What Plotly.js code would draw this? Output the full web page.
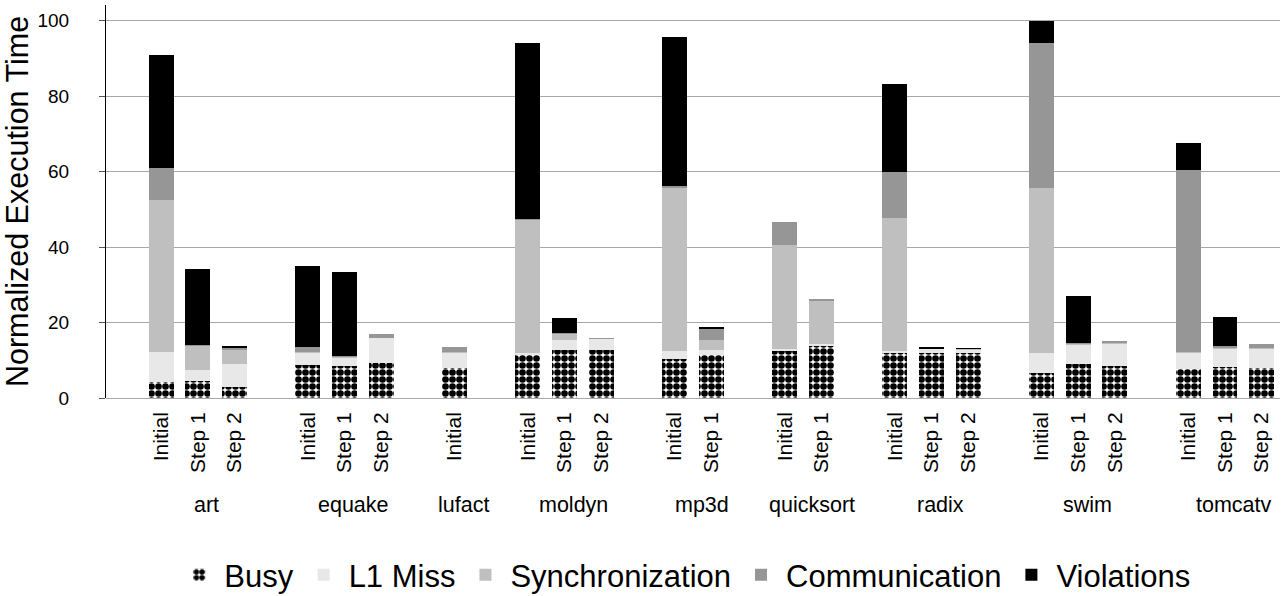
<!DOCTYPE html>
<html>
<head>
<meta charset="utf-8">
<script src="https://cdn.plot.ly/plotly-3.0.1.min.js"></script>
<style>html,body{margin:0;padding:0;background:#fff;}#chart{width:1288px;height:596px;}</style>
</head>
<body>
<div id="chart"></div>
<script>
// ---- data ----
const benchmarks = ['art', 'equake', 'lufact', 'moldyn', 'mp3d', 'quicksort', 'radix', 'swim', 'tomcatv'];
const configs = [
  ['Initial', 'Step 1', 'Step 2'],
  ['Initial', 'Step 1', 'Step 2'],
  ['Initial'],
  ['Initial', 'Step 1', 'Step 2'],
  ['Initial', 'Step 1'],
  ['Initial', 'Step 1'],
  ['Initial', 'Step 1', 'Step 2'],
  ['Initial', 'Step 1', 'Step 2'],
  ['Initial', 'Step 1', 'Step 2']
];
const seriesNames = ['Busy', 'L1 Miss', 'Synchronization', 'Communication', 'Violations'];
// values in bar order: art(I,S1,S2) equake(I,S1,S2) lufact(I) moldyn(I,S1,S2) mp3d(I,S1) quicksort(I,S1) radix(I,S1,S2) swim(I,S1,S2) tomcatv(I,S1,S2)
const busy  = [4.2, 4.4, 2.9,  8.7, 8.4, 9.3,  8.0,  11.3, 12.7, 12.7,  10.3, 11.3,  12.5, 13.7,  12.0, 12.0, 12.0,  6.6, 8.9, 8.4,  7.6, 8.2, 8.0];
const l1    = [8.0, 3.0, 6.2,  3.3, 2.1, 6.5,  4.0,  0.7, 2.6, 2.9,    2.1, 1.4,    0.4, 0.5,    0.5, 0.9, 0.8,     5.4, 5.1, 5.9,  4.4, 4.9, 5.1];
const sync  = [40.3, 6.4, 3.6, 0.3, 0.3, 0.2,  0.1,  35.2, 1.8, 0.1,   43.4, 2.8,   27.6, 11.5,  35.1, 0.1, 0.1,    43.6, 0.3, 0.2, 0.2, 0.2, 0.2];
const comm  = [8.4, 0.2, 0.6,  1.2, 0.3, 1.1,  1.3,  0.2, 0.2, 0.3,    0.5, 2.7,    6.1, 0.5,    12.4, 0.1, 0.1,    38.5, 0.4, 0.6, 48.2, 0.5, 0.9];
const viol  = [30.1, 20.3, 0.5, 21.5, 22.4, 0, 0,    46.7, 3.8, 0,     39.3, 0.6,   0, 0,        23.2, 0.4, 0.3,    5.9, 12.3, 0,   7.1, 7.6, 0];
const yTicks = [0, 20, 40, 60, 80, 100];

// ---- build category axis (one empty slot between benchmark groups) ----
const barIds = [], barLabels = [], allCats = [], groupCenters = [];
benchmarks.forEach((b, gi) => {
  const start = allCats.length;
  configs[gi].forEach(c => {
    const id = b + '|' + c;
    barIds.push(id); barLabels.push(c); allCats.push(id);
  });
  groupCenters.push((start + allCats.length - 1) / 2);
  if (gi < benchmarks.length - 1) allCats.push('gap' + gi);
});

const FONT = 'Liberation Sans, Arial, Helvetica, sans-serif';
const values = [busy, l1, sync, comm, viol];
const colors = ['#ffffff', '#e8e8e8', '#bfbfbf', '#969696', '#000000'];

const traces = seriesNames.map((name, i) => {
  const marker = {color: colors[i], line: {width: 0}};
  if (i === 0) {
    marker.color = '#ffffff';
    marker.pattern = {shape: '.', fgcolor: '#000000', bgcolor: '#ffffff', size: 7, solidity: 0.7, fillmode: 'replace'};
  }
  return {type: 'bar', name: name, x: barIds, y: values[i], marker: marker, hoverinfo: 'name+y'};
});

const annotations = benchmarks.map((b, gi) => ({
  text: b, x: groupCenters[gi], xref: 'x', y: -0.273, yref: 'paper',
  xanchor: 'center', yanchor: 'middle', showarrow: false, xshift: 9,
  font: {family: FONT, size: 21.5, color: '#000'}
}));

const layout = {
  width: 1288, height: 596,
  margin: {l: 106, r: 8, t: 5, b: 198},
  paper_bgcolor: '#fff', plot_bgcolor: '#fff',
  font: {family: FONT, color: '#000'},
  barmode: 'stack', bargap: 0.32,
  showlegend: true,
  legend: {
    orientation: 'h', xref: 'container', x: 0.532, xanchor: 'center',
    yref: 'container', y: 0.035, yanchor: 'middle',
    font: {family: FONT, size: 31, color: '#000'}, itemwidth: 40, traceorder: 'normal'
  },
  xaxis: {
    type: 'category', categoryorder: 'array', categoryarray: allCats,
    tickmode: 'array', tickvals: barIds, ticktext: barLabels,
    tickangle: -90, tickfont: {family: FONT, size: 21, color: '#000'},
    ticks: '', showgrid: false, showline: false, zeroline: false,
    range: [-1.5, allCats.length - 0.5], ticklabelstandoff: 9, fixedrange: true
  },
  yaxis: {
    range: [0, 104.2], tickmode: 'array', tickvals: yTicks,
    showgrid: true, gridcolor: '#a8a8a8', gridwidth: 1,
    zeroline: true, zerolinecolor: '#a8a8a8', zerolinewidth: 1,
    showline: true, linecolor: '#000', linewidth: 1,
    ticks: 'outside', ticklen: 6, tickcolor: '#555',
    tickfont: {family: FONT, size: 19, color: '#000'},
    ticklabelstandoff: 26,
    title: {text: 'Normalized Execution Time', font: {family: FONT, size: 30.5, color: '#000'}, standoff: 8},
    fixedrange: true
  },
  annotations: annotations
};

Plotly.newPlot('chart', traces, layout, {displayModeBar: false, staticPlot: true});
</script>
</body>
</html>
